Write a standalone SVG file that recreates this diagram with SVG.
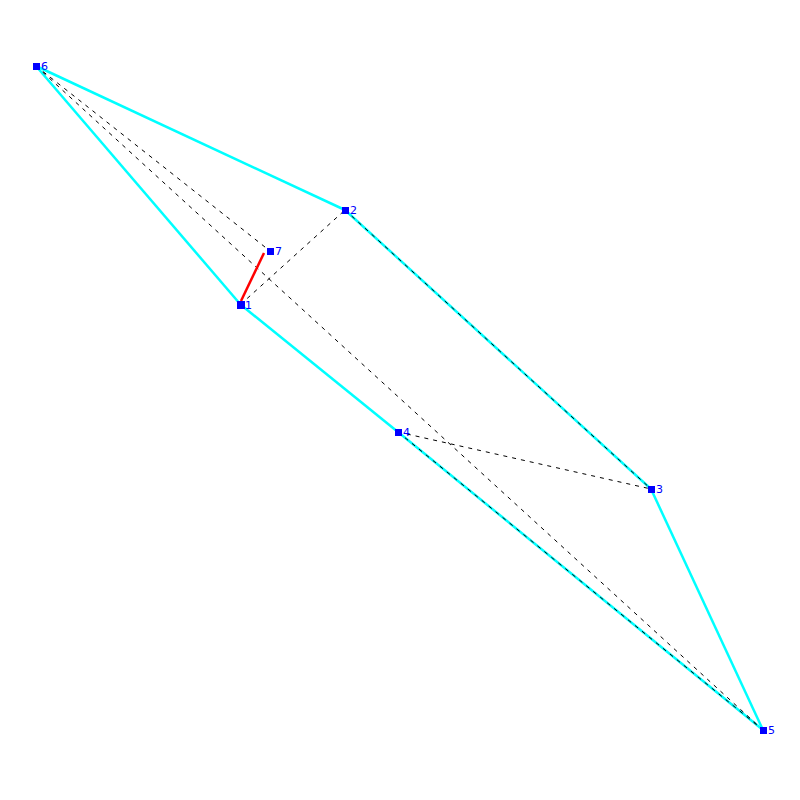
<svg xmlns="http://www.w3.org/2000/svg" width="800" height="800" viewBox="0 0 800 800">
<style>
.e{stroke:#00ffff;stroke-width:2.5;fill:none}
.d{stroke:#000;stroke-width:1;stroke-dasharray:4,5;fill:none}
.r{stroke:#ff0000;stroke-width:2.5;fill:none}
.n{fill:#0000ff}
.t{fill:#0000ff;font-family:"DejaVu Sans",sans-serif;font-size:11px}
</style>
<rect width="800" height="800" fill="#fff"/>
<g id="connectors">
<line class="e" x1="36" y1="66" x2="345" y2="210"/>
<line class="e" x1="345" y1="210" x2="651" y2="489"/>
<line class="e" x1="651" y1="489" x2="763" y2="730"/>
<line class="e" x1="763" y1="730" x2="398" y2="432"/>
<line class="e" x1="398" y1="432" x2="240.5" y2="304.5"/>
<line class="e" x1="240.5" y1="304.5" x2="36" y2="66"/>
<line class="d" x1="36" y1="66" x2="270" y2="251"/>
<line class="d" x1="36" y1="66" x2="763" y2="730"/>
<line class="d" x1="240.5" y1="304.5" x2="345" y2="210"/>
<line class="d" x1="398" y1="432" x2="651" y2="489"/>
<line class="d" x1="345" y1="210" x2="651" y2="489"/>
<line class="d" x1="398" y1="432" x2="763" y2="730"/>
<line class="r" x1="241" y1="301" x2="264" y2="253"/>
</g>
<g id="n6"><rect class="n" x="33" y="63" width="7" height="7"/><text class="t" x="41" y="70">6</text></g>
<g id="n2"><rect class="n" x="342" y="207" width="7" height="7"/><text class="t" x="350" y="214">2</text></g>
<g id="n7"><rect class="n" x="267" y="248" width="7" height="7"/><text class="t" x="275" y="255">7</text></g>
<g id="n1"><rect class="n" x="237" y="301" width="8" height="8"/><text class="t" x="245" y="309">1</text></g>
<g id="n4"><rect class="n" x="395" y="429" width="7" height="7"/><text class="t" x="403" y="436">4</text></g>
<g id="n3"><rect class="n" x="648" y="486" width="7" height="7"/><text class="t" x="656" y="493">3</text></g>
<g id="n5"><rect class="n" x="760" y="727" width="7" height="7"/><text class="t" x="768" y="734">5</text></g>
</svg>
